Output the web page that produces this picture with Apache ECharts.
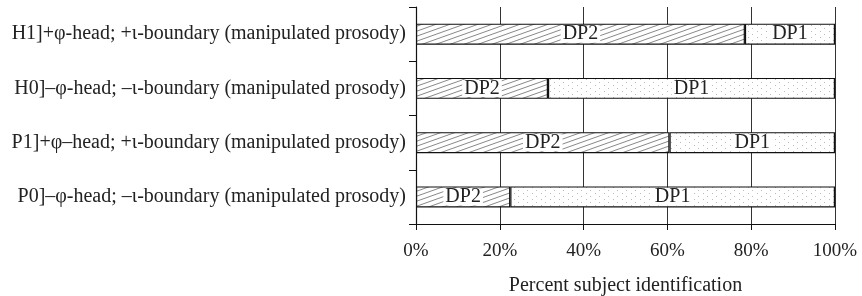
<!DOCTYPE html>
<html>
<head>
<meta charset="utf-8">
<script src="https://cdn.jsdelivr.net/npm/echarts@6/dist/echarts.min.js"></script>
<style>
  html, body { margin: 0; padding: 0; background: #fff; }
  #chart { width: 862px; height: 296px; }
</style>
</head>
<body>
<div id="chart"></div>
<script>
// rows, top to bottom
const categories = [
  'H1]+φ-head; +ι-boundary (manipulated prosody)',
  'H0]–φ-head; –ι-boundary (manipulated prosody)',
  'P1]+φ–head; +ι-boundary (manipulated prosody)',
  'P0]–φ-head; –ι-boundary (manipulated prosody)'
];
const dp2 = [78.5, 31.5, 60.5, 22.5];
const dp1 = [21.5, 68.5, 39.5, 77.5];
const xTicks = [0, 20, 40, 60, 80, 100];

const FONT = 'Liberation Serif';

// diagonal hatch for DP2
function hatch() {
  const c = document.createElement('canvas');
  c.width = 14; c.height = 5;
  const g = c.getContext('2d');
  g.fillStyle = '#fff';
  g.fillRect(0, 0, 14, 5);
  g.strokeStyle = '#6a6a6a';
  g.lineWidth = 0.8;
  for (let k = -1; k <= 1; k++) {
    g.beginPath();
    g.moveTo(-14, 10 + k * 5);
    g.lineTo(28, -5 + k * 5);
    g.stroke();
  }
  return c;
}

// sparse dots for DP1
function dots() {
  const c = document.createElement('canvas');
  c.width = 9; c.height = 6;
  const g = c.getContext('2d');
  g.fillStyle = '#fff';
  g.fillRect(0, 0, 9, 6);
  g.fillStyle = '#bbb';
  g.fillRect(1, 1, 1, 1);
  g.fillRect(5, 4, 1, 1);
  return c;
}

const barLabel = (txt) => ({
  show: true,
  position: 'inside',
  formatter: txt,
  fontFamily: FONT,
  fontSize: 20,
  color: '#222',
  backgroundColor: '#fff',
  padding: [0, 2, 0, 2],
  lineHeight: 17
});

const myChart = echarts.init(document.getElementById('chart'));
const option = {
  animation: false,
  grid: { left: 416, right: 27, top: 7, bottom: 72, containLabel: false, outerBoundsMode: 'none' },
  xAxis: {
    type: 'value',
    min: 0,
    max: 100,
    interval: 20,
    axisLine: { show: true, lineStyle: { color: '#111', width: 1.2 } },
    axisTick: { show: true, length: 6, lineStyle: { color: '#111' } },
    axisLabel: {
      formatter: v => xTicks.includes(v) ? v + '%' : '',
      fontFamily: FONT, fontSize: 19, color: '#222', margin: 18
    },
    splitLine: { show: true, lineStyle: { color: '#333', width: 1 } },
    name: 'Percent subject identification',
    nameLocation: 'middle',
    nameGap: 52,
    nameTextStyle: { fontFamily: FONT, fontSize: 20, color: '#222' }
  },
  yAxis: {
    type: 'category',
    inverse: true,
    data: categories,
    axisLine: { show: true, lineStyle: { color: '#111', width: 1.2 } },
    axisTick: { show: true, length: 7, lineStyle: { color: '#111' } },
    axisLabel: { fontFamily: FONT, fontSize: 20, color: '#222', margin: 10 },
    splitLine: { show: false }
  },
  series: [
    {
      name: 'DP2',
      type: 'bar',
      stack: 'all',
      barWidth: 21,
      data: dp2,
      itemStyle: { color: { image: hatch(), repeat: 'repeat' }, borderColor: '#111', borderWidth: 1.2 },
      label: barLabel('DP2')
    },
    {
      name: 'DP1',
      type: 'bar',
      stack: 'all',
      barWidth: 21,
      data: dp1,
      itemStyle: { color: { image: dots(), repeat: 'repeat' }, borderColor: '#111', borderWidth: 1.2 },
      label: barLabel('DP1')
    }
  ]
};
myChart.setOption(option);
</script>
</body>
</html>
